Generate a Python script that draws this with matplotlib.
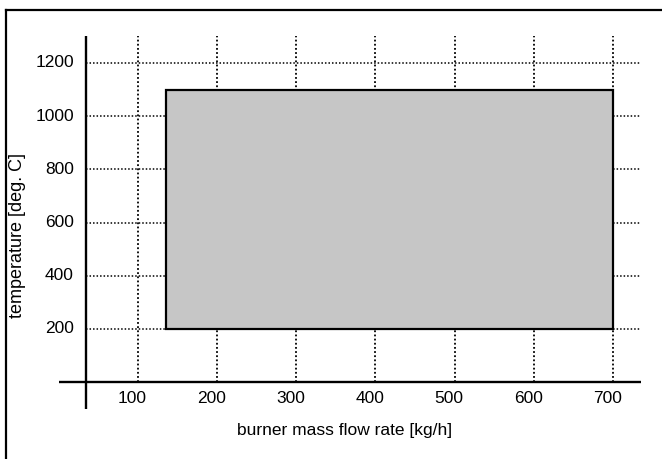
import matplotlib.pyplot as plt
from matplotlib.patches import Rectangle
from matplotlib.lines import Line2D
from matplotlib.transforms import offset_copy

plt.rcParams['font.family']=['Liberation Sans','DejaVu Sans']

# operating window of the burner
flow_min,flow_max=135,700
temp_min,temp_max=200,1100

x_ticks=[100,200,300,400,500,600,700]
y_ticks=[200,400,600,800,1000,1200]

x_label="burner mass flow rate [kg/h]"
y_label="temperature [deg. C]"

XMIN,XMAX=0,735
YMIN,YMAX=-100,1300
Y_AXIS_AT=34

fig=plt.figure(figsize=(6.62,4.59),dpi=100)
ax=fig.add_axes([0.0888,0.1094,0.879,0.8113])
ax.set_xlim(XMIN,XMAX)
ax.set_ylim(YMIN,YMAX)
ax.axis("off")

dots=(0,(1,1.3))
for xv in x_ticks:
	ax.plot([xv,xv],[0,YMAX],color="black",lw=1.3,ls=dots,zorder=1)
for yv in y_ticks:
	ax.plot([Y_AXIS_AT,XMAX],[yv,yv],color="black",lw=1.1,ls=dots,zorder=1)

# axes crossing lines
ax.plot([XMIN,XMAX],[0,0],color="black",lw=1.7,zorder=3)
ax.plot([Y_AXIS_AT,Y_AXIS_AT],[YMIN,YMAX],color="black",lw=1.7,zorder=3)

ax.add_patch(Rectangle((flow_min,temp_min),flow_max-flow_min,temp_max-temp_min,
	facecolor="#c6c6c6",edgecolor="black",lw=1.6,zorder=2))

fs=12.5
xt=offset_copy(ax.transData,fig=fig,x=-4,y=0,units="points")
for xv in x_ticks:
	ax.text(xv,-60,str(xv),transform=xt,ha="center",va="center",fontsize=fs)
for yv in y_ticks:
	ax.text(19,yv,str(yv),ha="right",va="center",fontsize=fs)

fig.text(345/662,1-430/459,x_label,ha="center",va="center",fontsize=fs)
fig.text(18/662,1-236/459,y_label,ha="center",va="center",rotation=90,fontsize=13)

# outer frame
fig.add_artist(Line2D([6/662,1.0],[1-10/459,1-10/459],color="black",lw=1.6))
fig.add_artist(Line2D([6/662,6/662],[0.0,1-10/459],color="black",lw=1.6))

fig.savefig("out.png",dpi=100)
